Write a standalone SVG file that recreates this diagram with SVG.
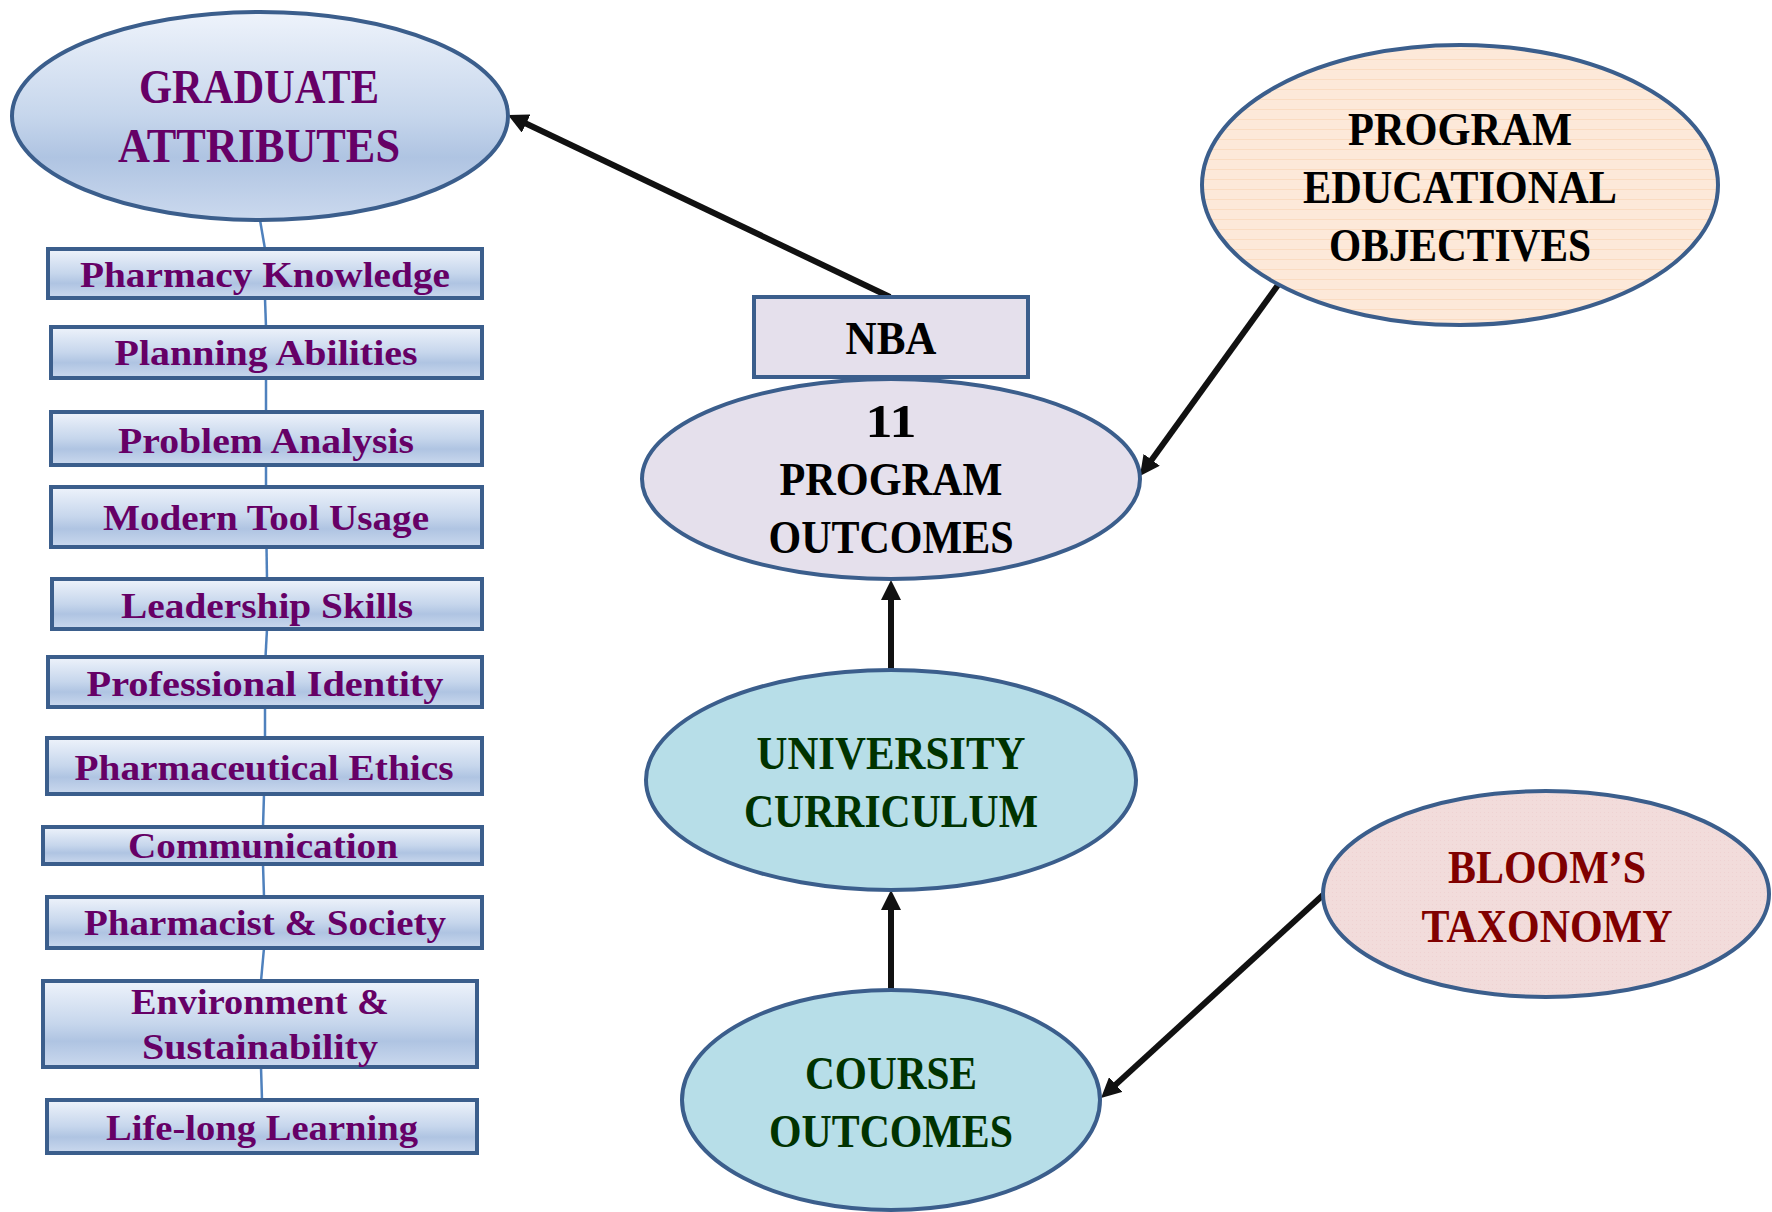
<svg xmlns="http://www.w3.org/2000/svg" width="1772" height="1212" viewBox="0 0 1772 1212">
<defs>
<linearGradient id="gBlue" x1="0" y1="0" x2="0" y2="1">
<stop offset="0" stop-color="#eef3fb"/>
<stop offset="0.5" stop-color="#c6d6ec"/>
<stop offset="0.7" stop-color="#afc4e2"/>
<stop offset="1" stop-color="#cbd9ee"/>
</linearGradient>
<pattern id="pLines" width="10" height="10" patternUnits="userSpaceOnUse">
<rect width="10" height="10" fill="#fde9d9"/>
<line x1="0" y1="9.5" x2="10" y2="9.5" stroke="#f9d3b3" stroke-width="1" opacity="0.6"/>
</pattern>
<pattern id="pDots" width="4" height="4" patternUnits="userSpaceOnUse">
<rect width="4" height="4" fill="#f2dcdb"/>
<rect x="0" y="0" width="1" height="1" fill="#eccccb" opacity="0.6"/>
</pattern>
<marker id="ah" viewBox="0 0 20 20" markerWidth="20" markerHeight="20" markerUnits="userSpaceOnUse" refX="2" refY="10" orient="auto">
<path d="M0,0 L20,10 L0,20 z" fill="#111"/>
</marker>
</defs>
<style>
.box{fill:url(#gBlue);stroke:#3b5e8c;stroke-width:4}
.ell{stroke:#3b5e8c;stroke-width:4}
.t{font-family:"Liberation Serif","DejaVu Serif",serif;font-weight:bold;text-anchor:middle}
.sm{font-size:36px;fill:#660066}
.big{font-size:47px}
.pur{fill:#660066}
.blk{fill:#000}
.grn{fill:#003300}
.red{fill:#800000}
.thin{stroke:#4f81bd;stroke-width:2.5;fill:none}
.arr{stroke:#111;stroke-width:6;fill:none;marker-end:url(#ah)}
</style>

<g id="connectors">
<line class="thin" x1="260" y1="220" x2="265" y2="249"/>
<line class="thin" x1="265" y1="299" x2="266" y2="327"/>
<line class="thin" x1="266" y1="378" x2="266" y2="412"/>
<line class="thin" x1="266" y1="465" x2="266" y2="487"/>
<line class="thin" x1="266.5" y1="547" x2="267" y2="579"/>
<line class="thin" x1="267" y1="629" x2="265.5" y2="657"/>
<line class="thin" x1="265" y1="707" x2="265" y2="738"/>
<line class="thin" x1="264" y1="794" x2="263" y2="827"/>
<line class="thin" x1="263" y1="864" x2="264" y2="897"/>
<line class="thin" x1="264" y1="948" x2="261" y2="981"/>
<line class="thin" x1="261" y1="1067" x2="262" y2="1100"/>
<line class="arr" x1="890" y1="297" x2="524.3" y2="122.7"/>
<line class="arr" x1="1278" y1="285" x2="1150.5" y2="461.4"/>
<line class="arr" x1="891" y1="670" x2="891" y2="598"/>
<line class="arr" x1="891" y1="990" x2="891" y2="908"/>
<line class="arr" x1="1323" y1="895" x2="1114.3" y2="1085.9"/>
</g>

<g id="graduate-attributes">
<ellipse class="ell" cx="260" cy="116" rx="248" ry="104" fill="url(#gBlue)"/>
<text class="t pur" font-size="49" x="259" y="103" textLength="240" lengthAdjust="spacingAndGlyphs">GRADUATE</text>
<text class="t pur" font-size="49" x="259" y="162" textLength="282" lengthAdjust="spacingAndGlyphs">ATTRIBUTES</text>
</g>

<g id="pharmacy-knowledge">
<rect class="box" x="48" y="249" width="434" height="49"/>
<text class="t sm" x="265" y="287" textLength="370" lengthAdjust="spacingAndGlyphs">Pharmacy Knowledge</text>
</g>
<g id="planning-abilities">
<rect class="box" x="51" y="327" width="431" height="51"/>
<text class="t sm" x="266" y="365" textLength="303" lengthAdjust="spacingAndGlyphs">Planning Abilities</text>
</g>
<g id="problem-analysis">
<rect class="box" x="51" y="412" width="431" height="53"/>
<text class="t sm" x="266" y="453" textLength="296" lengthAdjust="spacingAndGlyphs">Problem Analysis</text>
</g>
<g id="modern-tool-usage">
<rect class="box" x="51" y="487" width="431" height="60"/>
<text class="t sm" x="266" y="530" textLength="326" lengthAdjust="spacingAndGlyphs">Modern Tool Usage</text>
</g>
<g id="leadership-skills">
<rect class="box" x="52" y="579" width="430" height="50"/>
<text class="t sm" x="267" y="618" textLength="292" lengthAdjust="spacingAndGlyphs">Leadership Skills</text>
</g>
<g id="professional-identity">
<rect class="box" x="48" y="657" width="434" height="50"/>
<text class="t sm" x="265" y="696" textLength="357" lengthAdjust="spacingAndGlyphs">Professional Identity</text>
</g>
<g id="pharmaceutical-ethics">
<rect class="box" x="47" y="738" width="435" height="56"/>
<text class="t sm" x="264" y="780" textLength="379" lengthAdjust="spacingAndGlyphs">Pharmaceutical Ethics</text>
</g>
<g id="communication">
<rect class="box" x="43" y="827" width="439" height="37"/>
<text class="t sm" x="263" y="858" textLength="270" lengthAdjust="spacingAndGlyphs">Communication</text>
</g>
<g id="pharmacist-society">
<rect class="box" x="47" y="897" width="435" height="51"/>
<text class="t sm" x="265" y="935" textLength="362" lengthAdjust="spacingAndGlyphs">Pharmacist &amp; Society</text>
</g>
<g id="environment-sustainability">
<rect class="box" x="43" y="981" width="434" height="86"/>
<text class="t sm" x="260" y="1014" textLength="258" lengthAdjust="spacingAndGlyphs">Environment &amp;</text>
<text class="t sm" x="260" y="1059" textLength="236" lengthAdjust="spacingAndGlyphs">Sustainability</text>
</g>
<g id="life-long-learning">
<rect class="box" x="47" y="1100" width="430" height="53"/>
<text class="t sm" x="262" y="1140" textLength="312" lengthAdjust="spacingAndGlyphs">Life-long Learning</text>
</g>

<g id="nba">
<rect x="754" y="297" width="274" height="80" fill="#e5e0ec" stroke="#3b5e8c" stroke-width="4"/>
<text class="t big blk" x="891" y="354" textLength="91" lengthAdjust="spacingAndGlyphs">NBA</text>
</g>

<g id="program-outcomes">
<ellipse class="ell" cx="891" cy="479" rx="249" ry="100" fill="#e5e0ec"/>
<text class="t big blk" x="891" y="437" textLength="51" lengthAdjust="spacingAndGlyphs">11</text>
<text class="t big blk" x="891" y="495" textLength="223" lengthAdjust="spacingAndGlyphs">PROGRAM</text>
<text class="t big blk" x="891" y="553" textLength="245" lengthAdjust="spacingAndGlyphs">OUTCOMES</text>
</g>

<g id="program-educational-objectives">
<ellipse class="ell" cx="1460" cy="185" rx="258" ry="140" fill="url(#pLines)"/>
<text class="t big blk" x="1460" y="145" textLength="224" lengthAdjust="spacingAndGlyphs">PROGRAM</text>
<text class="t big blk" x="1460" y="203" textLength="314" lengthAdjust="spacingAndGlyphs">EDUCATIONAL</text>
<text class="t big blk" x="1460" y="261" textLength="262" lengthAdjust="spacingAndGlyphs">OBJECTIVES</text>
</g>

<g id="university-curriculum">
<ellipse class="ell" cx="891" cy="780" rx="245" ry="110" fill="#b7dee8"/>
<text class="t big grn" x="891" y="769" textLength="269" lengthAdjust="spacingAndGlyphs">UNIVERSITY</text>
<text class="t big grn" x="891" y="827" textLength="294" lengthAdjust="spacingAndGlyphs">CURRICULUM</text>
</g>

<g id="course-outcomes">
<ellipse class="ell" cx="891" cy="1100" rx="209" ry="110" fill="#b7dee8"/>
<text class="t big grn" x="891" y="1089" textLength="172" lengthAdjust="spacingAndGlyphs">COURSE</text>
<text class="t big grn" x="891" y="1147" textLength="244" lengthAdjust="spacingAndGlyphs">OUTCOMES</text>
</g>

<g id="blooms-taxonomy">
<ellipse class="ell" cx="1546" cy="894" rx="223" ry="103" fill="url(#pDots)"/>
<text class="t big red" x="1547" y="883" textLength="198" lengthAdjust="spacingAndGlyphs">BLOOM’S</text>
<text class="t big red" x="1547" y="942" textLength="251" lengthAdjust="spacingAndGlyphs">TAXONOMY</text>
</g>
</svg>
